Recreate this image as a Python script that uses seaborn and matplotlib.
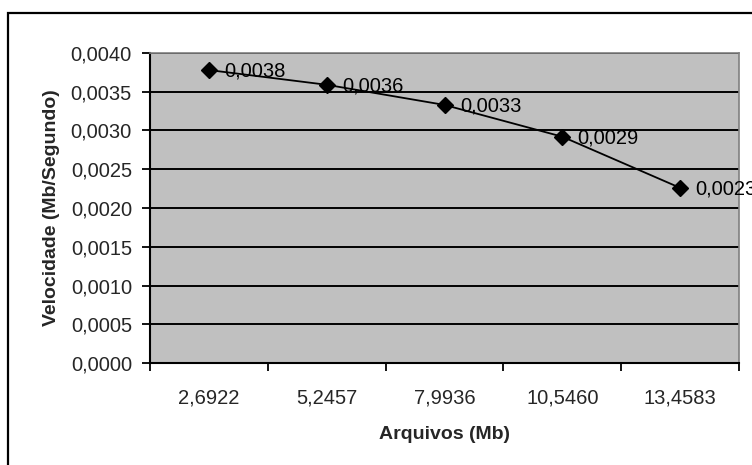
import matplotlib
matplotlib.use("Agg")
import matplotlib.pyplot as plt
import seaborn as sns
import pandas as pd
from matplotlib.patches import Rectangle

# ---- data ----
categories = ["2,6922", "5,2457", "7,9936", "10,5460", "13,4583"]
velocidade = [0.00378, 0.00359, 0.00333, 0.00292, 0.00226]
y_ticks = [0.0, 0.0005, 0.0010, 0.0015, 0.0020, 0.0025, 0.0030, 0.0035, 0.0040]
x_label = "Arquivos (Mb)"
y_label = "Velocidade (Mb/Segundo)"

def fmt(v):
    return f"{v:.4f}".replace(".", ",")

sns.set_theme(style="white")
plt.rcParams["font.family"] = ["Liberation Sans", "DejaVu Sans"]

df = pd.DataFrame({"arquivo": categories, "vel": velocidade})

fig = plt.figure(figsize=(7.52, 4.65), dpi=100)
fig.patch.set_facecolor("white")
ax = fig.add_axes([150/752, 1 - 363/465, (739-150)/752, (363-53)/465])
ax.set_facecolor("#C0C0C0")

sns.pointplot(data=df, x="arquivo", y="vel", color="black", markers="D",
              linestyles="-", errorbar=None, ax=ax, markersize=8, linewidth=1.3)

ax.set_xlim(-0.5, len(categories) - 0.5)
ax.set_ylim(y_ticks[0], y_ticks[-1])

# y axis
ax.set_yticks(y_ticks)
ax.set_yticklabels([fmt(t) for t in y_ticks])
ax.yaxis.grid(True, color="black", linewidth=1.4)
ax.set_axisbelow(True)

# x axis: tick marks at category boundaries, labels at centers
n = len(categories)
ax.set_xticks([i - 0.5 for i in range(n + 1)])
ax.set_xticklabels([""] * (n + 1))
ax.set_xticks(list(range(n)), minor=True)
ax.set_xticklabels(categories, minor=True)
ax.tick_params(axis="x", which="major", direction="out", length=6, width=1.3,
               color="black", bottom=True)
ax.tick_params(axis="x", which="minor", length=0, pad=18.5, labelsize=14.5)
ax.tick_params(axis="y", direction="out", length=6, width=1.3, color="black",
               left=True, pad=7, labelsize=14.5)

for s in ["left", "bottom"]:
    ax.spines[s].set_color("black")
    ax.spines[s].set_linewidth(1.5)
for s in ["top", "right"]:
    ax.spines[s].set_color("#808080")
    ax.spines[s].set_linewidth(1.2)

ax.set_xlabel(x_label, fontsize=14, fontweight="bold", labelpad=13)
ax.set_ylabel(y_label, fontsize=14, fontweight="bold", labelpad=8)

# data labels
for i, v in enumerate(velocidade):
    ax.annotate(fmt(v), (i, v), xytext=(11, -1), textcoords="offset points",
                ha="left", va="center", fontsize=14.5, color="black",
                annotation_clip=False, clip_on=False)

# outer chart border (clipped at right and bottom like the reference)
border = Rectangle((8/752, -0.2), 1.2, 0.2 + (1 - 13/465), transform=fig.transFigure,
                   fill=False, edgecolor="black", linewidth=1.6)
fig.patches.append(border)

fig.savefig("out.png", dpi=100)
